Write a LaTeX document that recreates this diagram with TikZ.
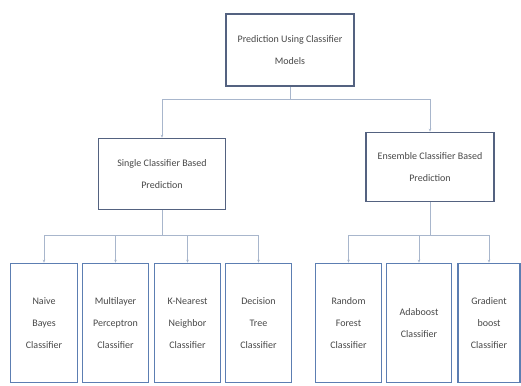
\documentclass[tikz,border=0pt]{standalone}
\usepackage{fontspec}
\setmainfont{Carlito}
\usetikzlibrary{arrows.meta}
\definecolor{boxline}{RGB}{84,98,128}
\definecolor{leafline}{RGB}{92,126,178}
\definecolor{connline}{RGB}{168,182,204}
\definecolor{labeltext}{RGB}{72,72,72}

\begin{document}
\begin{tikzpicture}[x=1pt,y=-1pt,
  box/.style={draw=boxline,line width=1.6pt,fill=white,text=labeltext,align=center,
    font=\fontsize{10}{22}\selectfont,inner sep=2pt},
  leaf/.style={box,draw=leafline,minimum height=119pt},
  conn/.style={draw=connline,line width=1pt},
  arr/.style={conn,-{Stealth[length=3pt,width=2.5pt]}}]
\useasboundingbox (0,0) rectangle (521,385);
% top level
\node[box,minimum width=128pt,minimum height=72pt] (top) at (290,50) {Prediction Using Classifier\\Models};
% second level
\node[box,minimum width=127pt,minimum height=71pt] (single) at (162,174) {Single Classifier Based\\Prediction};
\node[box,minimum width=128pt,minimum height=69pt] (ensemble) at (430,167) {Ensemble Classifier Based\\Prediction};
% leaves
\node[leaf,minimum width=67pt] (naive) at (44,323) {Naive\\Bayes\\Classifier};
\node[leaf,minimum width=66pt] (mlp) at (115.5,323) {Multilayer\\Perceptron\\Classifier};
\node[leaf,minimum width=66pt] (knn) at (187.5,323) {K-Nearest\\Neighbor\\Classifier};
\node[leaf,minimum width=66pt] (tree) at (258.5,323) {Decision\\Tree\\Classifier};
\node[leaf,minimum width=66pt] (forest) at (348.5,323) {Random\\Forest\\Classifier};
\node[leaf,minimum width=65pt] (ada) at (419,323) {Adaboost\\Classifier};
\node[leaf,minimum width=62pt] (grad) at (489,323) {Gradient\\boost\\Classifier};
% connectors
\coordinate (bus1) at (290,100);
\coordinate (bus2) at (162,235);
\coordinate (bus3) at (430,235);
\draw[conn] (top.south) -- (bus1);
\draw[arr] (bus1) -| (single.north);
\draw[arr] (bus1) -| (ensemble.north);
\draw[conn] (single.south) -- (bus2);
\draw[arr] (bus2) -| (naive.north);
\draw[arr] (bus2) -| (mlp.north);
\draw[arr] (bus2) -| (knn.north);
\draw[arr] (bus2) -| (tree.north);
\draw[conn] (ensemble.south) -- (bus3);
\draw[arr] (bus3) -| (forest.north);
\draw[arr] (bus3) -| (ada.north);
\draw[arr] (bus3) -| (grad.north);
\end{tikzpicture}
\end{document}
